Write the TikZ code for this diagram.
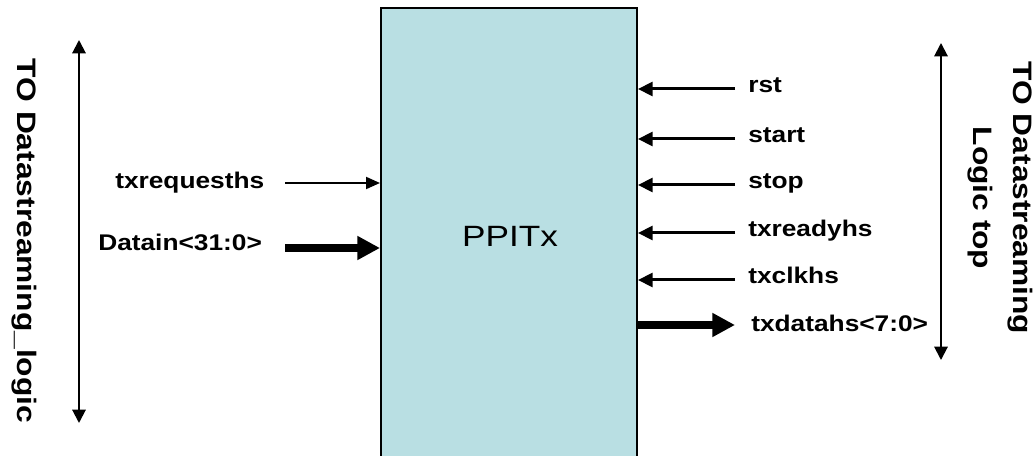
\documentclass[tikz,border=0pt]{standalone}
\usepackage{fontspec}
\setmainfont{Liberation Sans}
\usetikzlibrary{arrows.meta,positioning,calc}

\definecolor{boxfill}{HTML}{B9DFE3}
\newcommand{\widetxt}[1]{\scalebox{1.16}[1]{#1}}
\newcommand{\widerot}[1]{\scalebox{1.19}[1]{#1}}

\tikzset{
  sig/.style={line width=2.25pt, -{Triangle[length=11pt,width=10.5pt]}},
  thinsig/.style={line width=1.5pt, -{Triangle[length=10.5pt,width=9pt]}},
  bus/.style={line width=6pt, -{Triangle[length=17pt,width=17pt]}},
  span/.style={line width=1.5pt, {Triangle[length=10pt,width=10pt]}-{Triangle[length=10pt,width=10pt]}},
  lbl/.style={font=\fontsize{17}{20}\selectfont\bfseries, inner sep=0pt, anchor=base west},
  side/.style={font=\fontsize{20}{30}\selectfont\bfseries, inner sep=0pt, rotate=-90, align=center},
}

\begin{document}
\begin{tikzpicture}[x=0.75pt, y=-0.75pt]

\path[fill=white, use as bounding box] (0,0) rectangle (1036,456);

\node (ppitx) [draw, line width=1.5pt, fill=boxfill,
               minimum width=192pt, minimum height=346.5pt,
               text depth=0pt, font=\fontsize{22}{24}\selectfont] at (509,239) {};
\node (ppitx-name) [font=\fontsize{22}{24}\selectfont, inner sep=0pt]
  at (510,236) {\scalebox{1.2}[1]{PPITx}};

% inputs from the left
\node[lbl] (txreq) at (115,189) {\widetxt{txrequesths}};
\node[lbl] (datain) at (98,251) {\widetxt{Datain<31:0>}};
\coordinate (txreq-out) at (285,183);
\coordinate (datain-out) at (285,248);
\draw[thinsig] (txreq-out) -- (txreq-out -| ppitx.west);
\draw[bus] (datain-out) -- (datain-out -| ppitx.west);

% inputs from the right
\node[lbl] (rst) at (748,93) {\widetxt{rst}};
\node[lbl] (start) at (748,143) {\widetxt{start}};
\node[lbl] (stop) at (748,189) {\widetxt{stop}};
\node[lbl] (txready) at (748,237) {\widetxt{txreadyhs}};
\node[lbl] (txclk) at (748,284) {\widetxt{txclkhs}};
\coordinate (rst-in) at (735,89);
\coordinate (start-in) at (735,139);
\coordinate (stop-in) at (735,185);
\coordinate (txready-in) at (735,233);
\coordinate (txclk-in) at (735,280);
\draw[sig] (rst-in) -- (rst-in -| ppitx.east);
\draw[sig] (start-in) -- (start-in -| ppitx.east);
\draw[sig] (stop-in) -- (stop-in -| ppitx.east);
\draw[sig] (txready-in) -- (txready-in -| ppitx.east);
\draw[sig] (txclk-in) -- (txclk-in -| ppitx.east);

% output
\node[lbl] (txdata) at (751,331) {\widetxt{txdatahs<7:0>}};
\coordinate (txdata-out) at (735,325);
\draw[bus] (txdata-out -| ppitx.east) -- (txdata-out);

% sides
\coordinate (ltop) at (79,40);
\coordinate (lbot) at (79,423);
\draw[span] (ltop) -- (lbot);
\node[side] (lside) at (24,241) {\widerot{TO Datastreaming\_logic}};

\coordinate (rtop) at (941,43);
\coordinate (rbot) at (941,360);
\draw[span] (rtop) -- (rbot);
\node[side] (rside) at (1000,198) {\widerot{TO Datastreaming}\\ \widerot{Logic top}};

\end{tikzpicture}
\end{document}
